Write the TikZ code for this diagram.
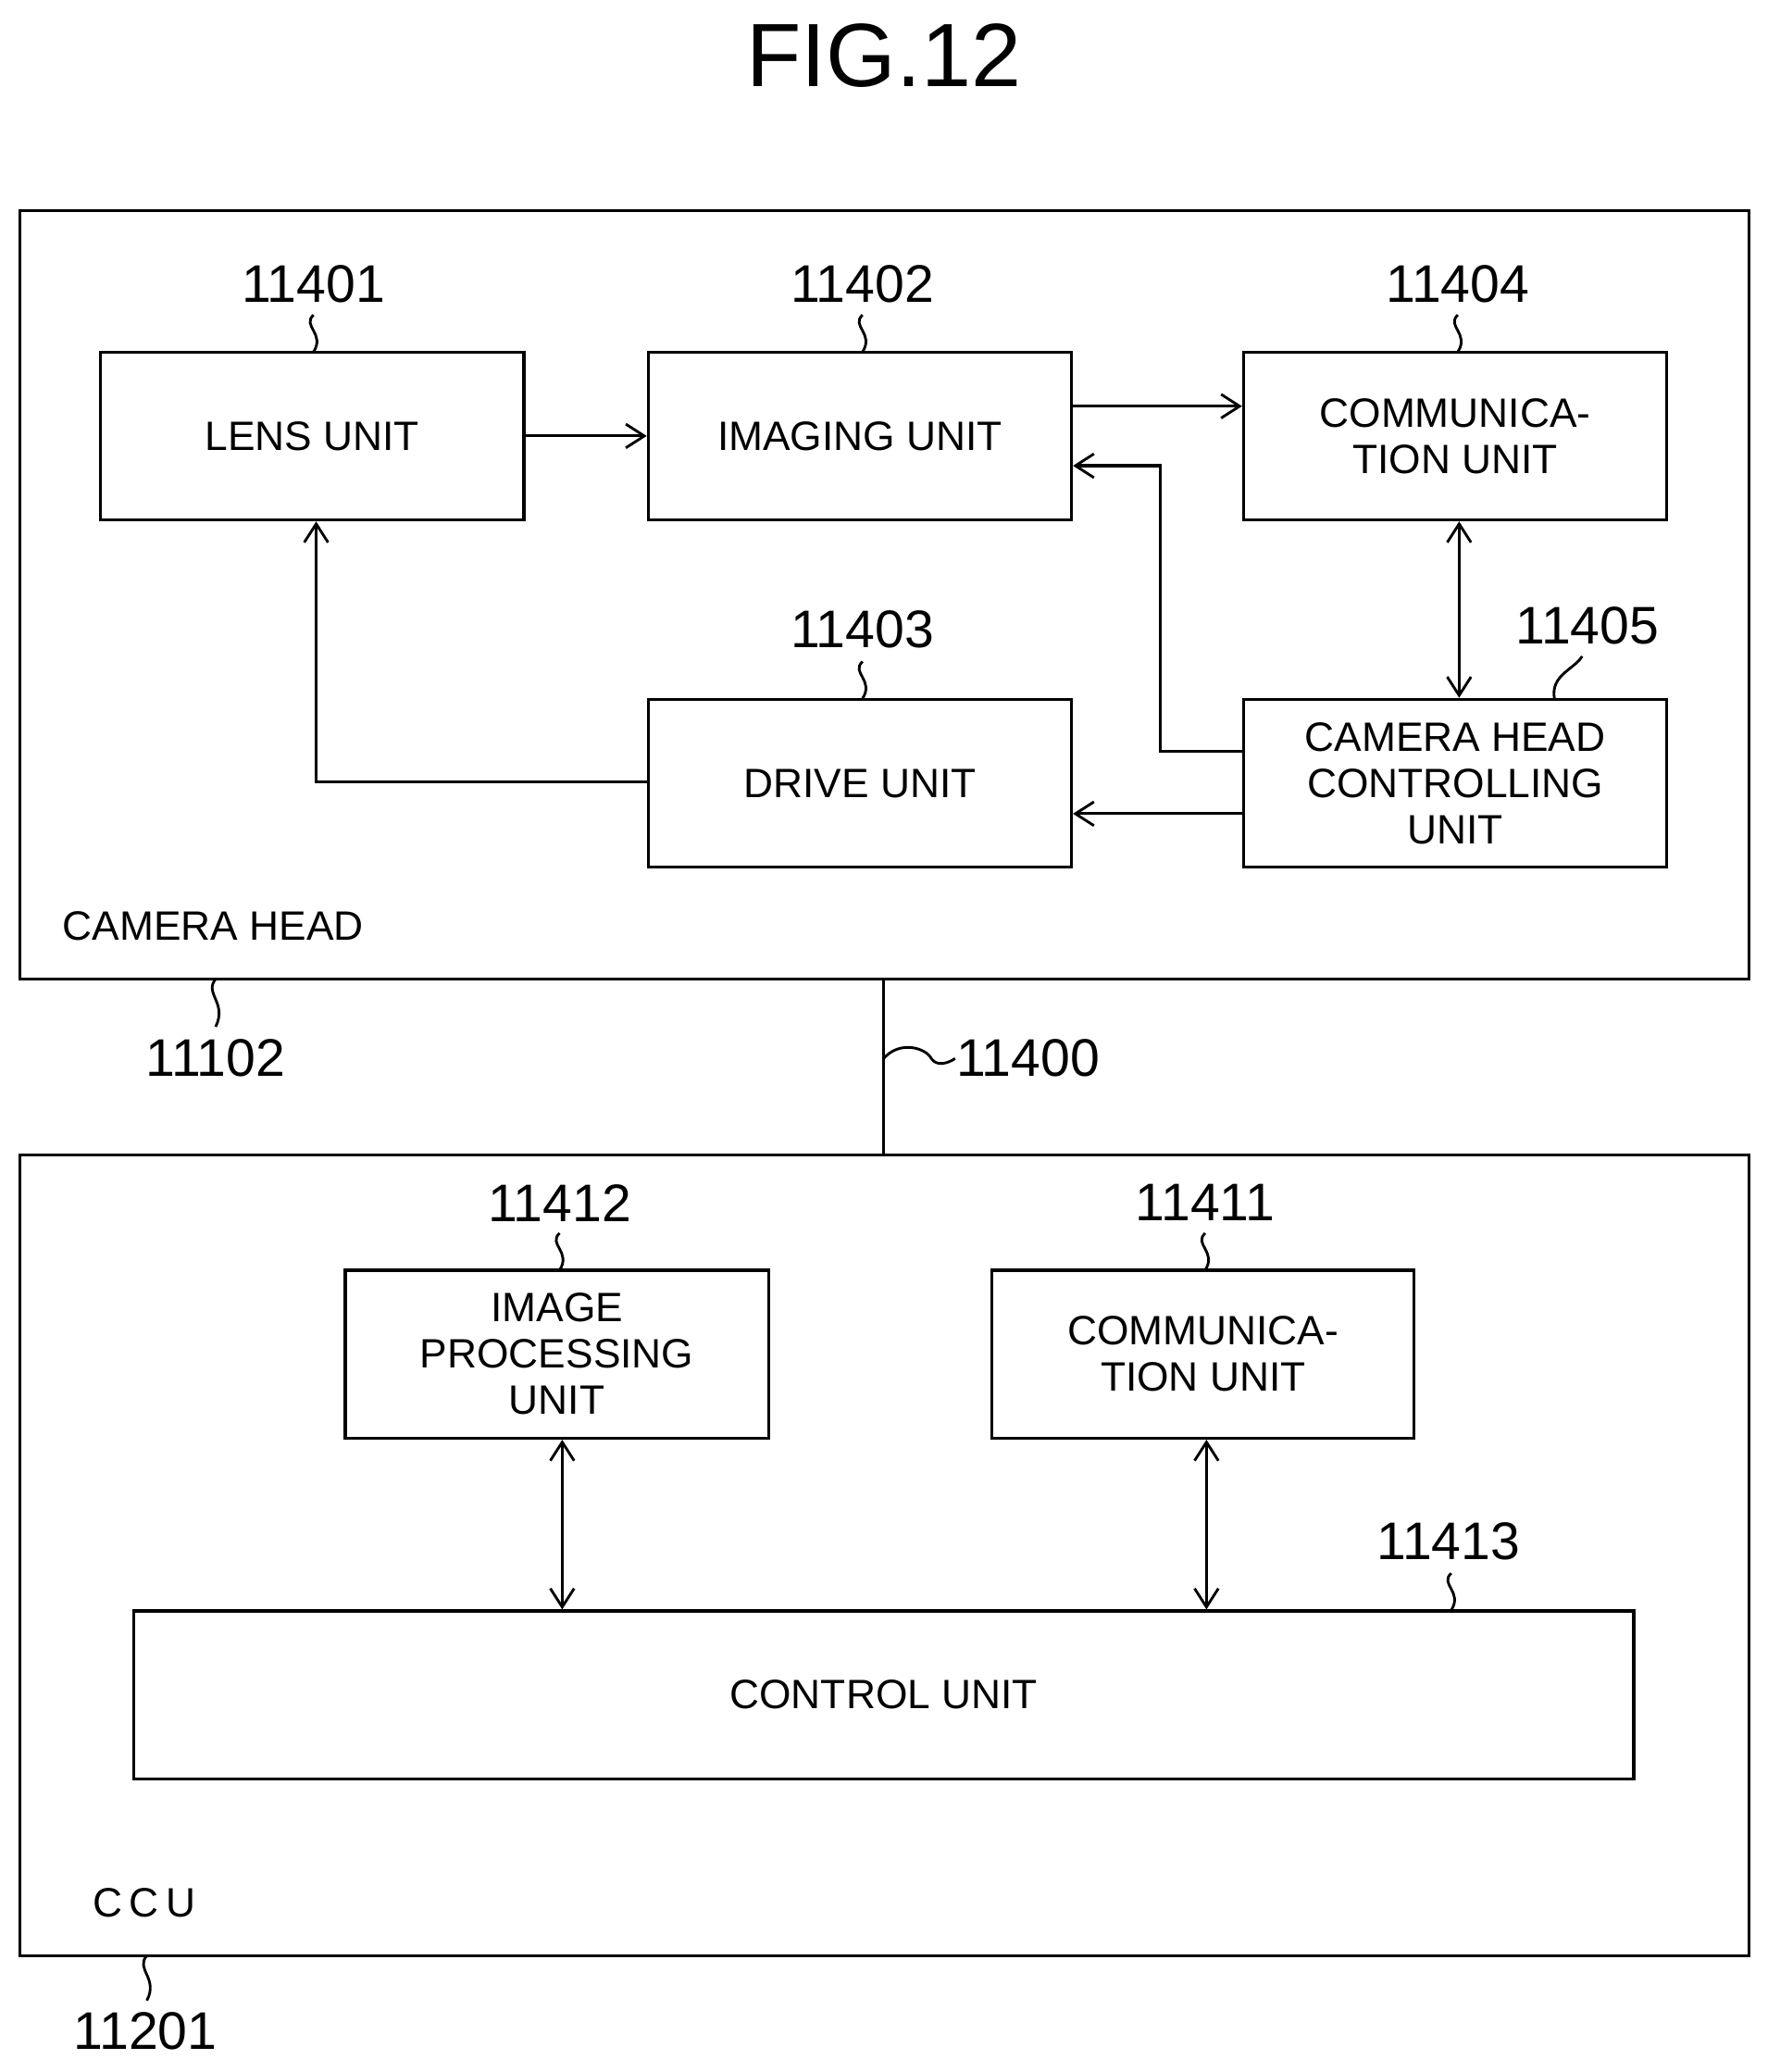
\documentclass[tikz,border=0pt]{standalone}
\usepackage{fontspec}
\setmainfont{Liberation Sans}
\usetikzlibrary{arrows.meta}
\begin{document}
\begin{tikzpicture}[x=1pt,y=-1pt,line width=2.2pt,
 box/.style={draw,minimum width=320pt,minimum height=127pt,inner sep=0pt,align=center,font=\fontsize{31}{35}\selectfont},
 lbl/.style={font=\fontsize{40}{44}\selectfont,inner sep=0pt},
 arr/.style={-{Straight Barb[length=14pt,width=18pt,line width=2pt]}},
 darr/.style={{Straight Barb[length=14pt,width=18pt,line width=2pt]}-{Straight Barb[length=14pt,width=18pt,line width=2pt]}},
 sq/.style={line width=2pt}]
\useasboundingbox (0,0) rectangle (1336,1566);
\node[font=\fontsize{68}{72}\selectfont] (title) at (668,42) {FIG.12};
\draw (15,159) rectangle (1322,740);
\draw (15,873) rectangle (1322,1478);
\node[box] (lens) at (236,329.5) {LENS UNIT};
\node[box] (img) at (650,329.5) {IMAGING UNIT};
\node[box] (comm) at (1100,329.5) {COMMUNICA-\\TION UNIT};
\node[box] (drive) at (650,592) {DRIVE UNIT};
\node[box] (chc) at (1100,592) {CAMERA HEAD\\CONTROLLING\\UNIT};
\node[box] (ipu) at (421,1023.5) {IMAGE\\PROCESSING\\UNIT};
\node[box,minimum width=319pt] (comm2) at (909.5,1023.5) {COMMUNICA-\\TION UNIT};
\node[box,minimum width=1134pt] (ctrl) at (668,1281) {CONTROL UNIT};
\draw[arr] (lens.east) -- (img.west);
\draw[arr] (img.east |- 0,307) -- (comm.west |- 0,307);
\draw[arr] (chc.west |- 0,568) -- (877,568) -- (877,352) -- (img.east |- 0,352);
\draw[arr] (chc.west |- 0,615) -- (drive.east |- 0,615);
\draw[arr] (drive.west |- 0,591) -- (239,591) -- (lens.south -| 239,0);
\draw[darr] (comm.south -| 1103,0) -- (chc.north -| 1103,0);
\draw[darr] (ipu.south -| 425,0) -- (ctrl.north -| 425,0);
\draw[darr] (comm2.south -| 912,0) -- (ctrl.north -| 912,0);
\draw (668,740) -- (668,873);
\node[font=\fontsize{31}{35}\selectfont,anchor=west] (chl) at (43,700) {CAMERA HEAD};
\node[font=\fontsize{31}{35}\selectfont,anchor=west] (ccul) at (66,1438) {C\,C\,U};
\node[lbl] (l1) at (237,215) {11401};
\node[lbl] (l2) at (652,215) {11402};
\node[lbl] (l4) at (1102,215) {11404};
\node[lbl] (l3) at (652,476) {11403};
\node[lbl] (l5) at (1200,473) {11405};
\node[lbl] (l12) at (423,909) {11412};
\node[lbl] (l11) at (911,909) {11411};
\node[lbl] (l13) at (1095,1165) {11413};
\node[lbl] (l102) at (163,800) {11102};
\node[lbl] (l201) at (110,1535) {11201};
\node[lbl,anchor=west] (l400) at (722,800) {11400};
\foreach \x/\a/\b in {237/238/266, 652/238/266, 1102/238/266, 652/500/528, 423/932/960, 911/932/960, 1097/1189/1217, 163/740/776, 111/1478/1512}
 \draw[sq] (\x,\a) .. controls ({\x-9},{\a+0.3*(\b-\a)}) and ({\x+9},{\b-0.5*(\b-\a)}) .. (\x,\b);
\draw[sq] (1175,528) .. controls (1172,510) and (1190,506) .. (1196,496);
\draw[sq] (668,800) .. controls (680,786) and (700,792) .. (704,800) .. controls (708,806) and (716,804) .. (722,800);
\end{tikzpicture}
\end{document}
